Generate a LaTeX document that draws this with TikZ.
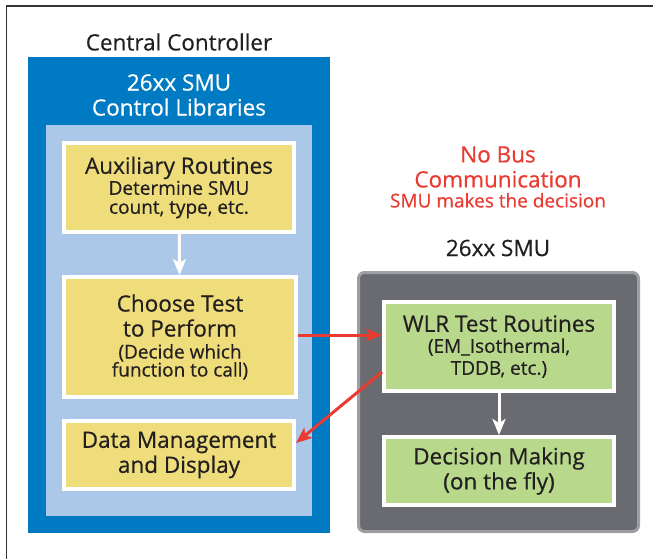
\documentclass[tikz,border=0pt]{standalone}
\usepackage{fontspec}
\setmainfont[FakeBold=0.5]{Open Sans}
\usetikzlibrary{arrows.meta, positioning, calc}

\definecolor{ctrlblue}{RGB}{0,122,194}
\definecolor{libblue}{RGB}{172,200,232}
\definecolor{routyellow}{RGB}{238,221,122}
\definecolor{smugreen}{RGB}{184,216,140}
\definecolor{smugray}{RGB}{106,107,112}
\definecolor{rimgray}{RGB}{158,159,163}
\definecolor{busred}{RGB}{234,59,50}
\definecolor{inkdark}{RGB}{35,31,32}

\newcommand{\bigtxt}{\fontsize{22.5}{25}\selectfont}
\newcommand{\smalltxt}{\fontsize{19}{19}\selectfont\lineskiplimit=-50pt}

\begin{document}
\begin{tikzpicture}[x=1pt, y=-1pt, >={Stealth[length=16pt, width=13pt, inset=4pt]},
    every node/.style={align=center, text=inkdark, inner sep=0pt, font=\smalltxt},
    panel/.style={rectangle, draw=white, line width=4pt},
    routine/.style={panel, fill=routyellow, minimum width=230pt},
    smuroutine/.style={panel, fill=smugreen, minimum width=230pt},
    wharrow/.style={->, draw=white, line width=3pt},
    redarrow/.style={->, draw=busred, fill=busred, line width=3pt}]
    \useasboundingbox (0,0) rectangle (653,559);
    % page frame
    \draw[line width=1.3pt, black!80] (6.5,559) -- (6.5,6) -- (653,6);

    % central controller side
    \node [rectangle, fill=ctrlblue, minimum width=302pt, minimum height=476pt] (ctrl) at (179,295) {};
    \node [rectangle, fill=libblue, minimum width=266pt, minimum height=391pt] (libs) at (179,320.5) {};
    \node [font=\bigtxt] (ctrltitle) at (179,42) {Central Controller};
    \node [font=\bigtxt, text=white] (libtitle) at (179,95) {26xx SMU\\Control Libraries};

    \node [routine, minimum height=89pt] (aux) at (179,187.5) {\bigtxt Auxiliary Routines\\[2pt]
        Determine SMU\\count, type, etc.};
    \node [routine, minimum width=232pt, minimum height=120pt] (choose) at (180,337) {\bigtxt Choose Test\\[6pt]
        \bigtxt to Perform\\[3pt] (Decide which\\[-1pt] function to call)};
    \node [routine, font=\bigtxt, minimum height=68pt] (data) at (179,455) {Data Management\\and Display};

    % SMU side
    \node [text=busred] (nobus) at (498,177) {\bigtxt No Bus\\[6pt] \bigtxt Communication\\[1pt]
        SMU makes the decision};
    \node [font=\bigtxt] (smutitle) at (498,248) {26xx SMU};
    \node [rectangle, rounded corners=6pt, fill=smugray, draw=rimgray, line width=3pt,
        minimum width=280pt, minimum height=259pt] (smu) at (498.5,402) {};

    \node [smuroutine, minimum height=89pt] (wlr) at (499,346.5) {\bigtxt WLR Test Routines\\[2pt]
        (EM\_Isothermal,\\[3pt] TDDB, etc.)};
    \node [smuroutine, font=\bigtxt, minimum height=68pt] (decide) at (499,471) {Decision Making\\(on the fly)};

    % connectors
    \draw [wharrow] (aux) -- (choose);
    \draw [wharrow] (wlr) -- (decide);
    \draw [redarrow] ([yshift=2pt]choose.east) -- ([yshift=2pt]choose.east -| wlr.west);
    \draw [redarrow] ([yshift=-25.5pt]wlr.west) -- ([yshift=12pt]data.east);
\end{tikzpicture}
\end{document}
